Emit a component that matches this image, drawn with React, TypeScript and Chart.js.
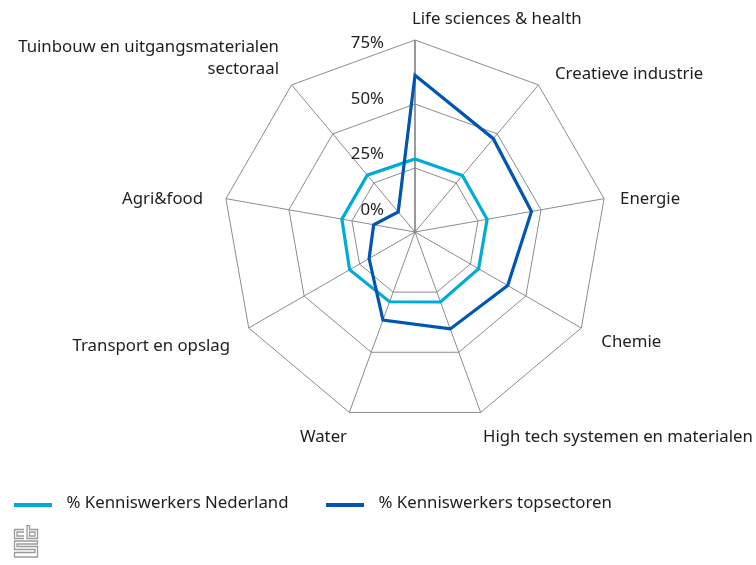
import React, { useEffect, useRef } from "react";
import { Chart, registerables } from "chart.js";

Chart.register(...registerables);

// ---- data ----
const categories: (string | string[])[] = [
  "Life sciences & health",
  "Creatieve industrie",
  "Energie",
  "Chemie",
  "High tech systemen en materialen",
  "Water",
  "Transport en opslag",
  "Agri&food",
  ["Tuinbouw en uitgangsmaterialen", "sectoraal"],
];
const seriesNames = ["% Kenniswerkers Nederland", "% Kenniswerkers topsectoren"];
const nederland = [28.5, 28.8, 28.6, 28.7, 29.1, 29.0, 29.5, 29.0, 29.0];
const topsectoren = [61.2, 47.6, 46.2, 41.8, 40.3, 36.6, 20.7, 16.4, 10.2];
const tickValues = [0, 25, 50, 75];
const tickLabels = ["0%", "25%", "50%", "75%"];

// ---- style ----
const LIGHT = "#00abd9";
const DARK = "#0056b0";
const TEXT = "#1e1e1e";
const GRID = "#8c8c8c";
const FONT = '16.8px "Noto Sans"';

// label placement relative to each axis end point: [dx, dy(baseline), align]
const labelLayout: [number, number, CanvasTextAlign][] = [
  [-3, -16, "left"],
  [16.6, -6, "left"],
  [16, 5.3, "left"],
  [20, 19, "left"],
  [2.3, 29.6, "left"],
  [-2.3, 29.6, "right"],
  [-18.7, 23, "right"],
  [-22.9, 5.3, "right"],
  [-12.6, -33, "right"],
];

const labelsPlugin = {
  id: "customLabels",
  afterDraw(chart: any) {
    const ctx: CanvasRenderingContext2D = chart.ctx;
    const scale = chart.scales.r;
    ctx.save();
    ctx.font = FONT;
    ctx.fillStyle = TEXT;
    ctx.textBaseline = "alphabetic";
    // point labels
    categories.forEach((lab, i) => {
      const p = scale.getPointPosition(i, scale.drawingArea);
      const [dx, dy, align] = labelLayout[i];
      ctx.textAlign = align;
      const lines = Array.isArray(lab) ? lab : [lab];
      lines.forEach((ln, j) => ctx.fillText(ln, p.x + dx, p.y + dy + j * 22));
    });
    // tick labels
    ctx.textAlign = "right";
    tickValues.forEach((v, i) => {
      const d = scale.getDistanceFromCenterForValue(v);
      const y = scale.yCenter - (23 + 0.87 * d) + 6;
      ctx.fillText(tickLabels[i], scale.xCenter - 31, y);
    });
    // small hub at the centre
    ctx.fillStyle = "#8c8c8c";
    ctx.beginPath();
    ctx.arc(scale.xCenter, scale.yCenter, 1.8, 0, Math.PI * 2);
    ctx.fill();
    // legend
    const colors = [LIGHT, DARK];
    const legendX = [14, 326];
    seriesNames.forEach((name, i) => {
      ctx.fillStyle = colors[i];
      ctx.fillRect(legendX[i], 503, 38, 4);
      ctx.fillStyle = TEXT;
      ctx.textAlign = "left";
      ctx.fillText(name, legendX[i] + 52.5, 508);
    });
    ctx.restore();
  },
};

function Logo() {
  return (
    <svg
      width={26}
      height={33}
      viewBox="0 0 26 33"
      style={{ position: "absolute", left: 13, top: 525 }}
      fill="none"
      stroke="#9a9a9a"
      strokeWidth={1.3}
    >
      <path d="M11 4.5 H1.5 V13.5 H11" />
      <path d="M11 7 H4 V11 H11" />
      <path d="M14 0.5 V13.5 H24.5 V4.5 H16.5 V0.5 Z" />
      <path d="M16.5 7 H22 V11 H16.5 Z" />
      <path d="M24.5 16 H1.5 V24.5 H22 V27.5 H1.5 V32 H24.5 V21.5 H4 V19 H24.5 Z" />
    </svg>
  );
}

export default function App() {
  const ref = useRef<HTMLCanvasElement>(null);
  useEffect(() => {
    if (!ref.current) return;
    const chart = new Chart(ref.current, {
      type: "radar",
      data: {
        labels: categories as any,
        datasets: [
          {
            label: seriesNames[0],
            data: nederland,
            borderColor: LIGHT,
            backgroundColor: LIGHT,
            borderWidth: 3.2,
            pointRadius: 0,
            pointHoverRadius: 0,
            fill: false,
            order: 1,
          },
          {
            label: seriesNames[1],
            data: topsectoren,
            borderColor: DARK,
            backgroundColor: DARK,
            borderWidth: 3.2,
            pointRadius: 0,
            pointHoverRadius: 0,
            fill: false,
            order: 0,
          },
        ],
      },
      options: {
        responsive: false,
        animation: false,
        layout: { padding: { left: 223, right: 149, top: 40, bottom: 141 } },
        elements: { line: { tension: 0, borderJoinStyle: "miter" } },
        plugins: { legend: { display: false }, tooltip: { enabled: false } },
        scales: {
          r: {
            min: 0,
            max: 75,
            startAngle: 0,
            ticks: { display: false, stepSize: 25 },
            grid: { color: GRID, lineWidth: 1 },
            angleLines: {
              color: (c: any) => (c.index === 0 ? "#808080" : GRID),
              lineWidth: (c: any) => (c.index === 0 ? 1.6 : 1),
            },
            pointLabels: { display: false },
          },
        },
      },
      plugins: [labelsPlugin],
    });
    return () => chart.destroy();
  }, []);
  return (
    <div style={{ position: "fixed", left: 0, top: 0, width: 756, height: 565, background: "#fff" }}>
      <canvas ref={ref} width={756} height={565} style={{ display: "block" }} />
      <Logo />
    </div>
  );
}
